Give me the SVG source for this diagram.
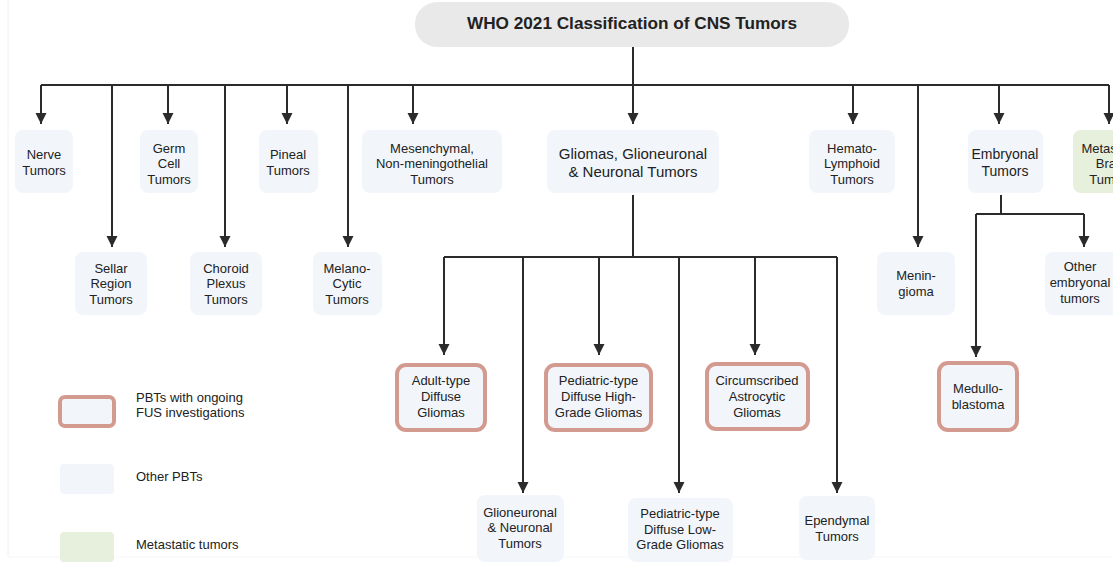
<svg xmlns="http://www.w3.org/2000/svg" width="1113" height="563" viewBox="0 0 1113 563">
<style>
.bg{fill:#ffffff}
.node{fill:#f2f6fb;stroke:none}
.hl{fill:#f2f6fb;stroke:#d39a90;stroke-width:4}
.meta{fill:#e7efdd;stroke:none}
.title{fill:#e9e9e9}
text{font-family:"Liberation Sans",Arial,sans-serif;font-size:13px;fill:#222;text-anchor:middle}
.t{font-weight:bold;font-size:17.2px}
.big{font-size:15px}
.mid{font-size:14px}
.leg{text-anchor:start}
.c{fill:none;stroke:#2b2b2b;stroke-width:2}
</style>
<defs>
<marker id="ah" markerUnits="userSpaceOnUse" markerWidth="12" markerHeight="12" viewBox="0 0 12 12" refX="11" refY="6" orient="auto">
<path d="M0,0.5 L11,6 L0,11.5 z" fill="#2b2b2b"/>
</marker>
</defs>
<rect class="bg" x="0" y="0" width="1113" height="563"/>
<line x1="8" y1="0" x2="8" y2="557" stroke="#f0f0f0" stroke-width="1"/>
<line x1="8" y1="557" x2="1113" y2="557" stroke="#f6f6f6" stroke-width="1"/>

<g id="connectors">
<path class="c" d="M41,85 H1109"/>
<path class="c" d="M633,47 V85"/>
<path class="c" d="M41,85 V124" marker-end="url(#ah)"/>
<path class="c" d="M112,85 V247" marker-end="url(#ah)"/>
<path class="c" d="M168,85 V124" marker-end="url(#ah)"/>
<path class="c" d="M225,85 V247" marker-end="url(#ah)"/>
<path class="c" d="M287,85 V124" marker-end="url(#ah)"/>
<path class="c" d="M348,85 V247" marker-end="url(#ah)"/>
<path class="c" d="M413,85 V124" marker-end="url(#ah)"/>
<path class="c" d="M633,85 V124" marker-end="url(#ah)"/>
<path class="c" d="M853,85 V124" marker-end="url(#ah)"/>
<path class="c" d="M918,85 V247" marker-end="url(#ah)"/>
<path class="c" d="M999,85 V124" marker-end="url(#ah)"/>
<path class="c" d="M1109,85 V124" marker-end="url(#ah)"/>
<path class="c" d="M633,195 V257"/>
<path class="c" d="M444,257 H837"/>
<path class="c" d="M444,257 V355" marker-end="url(#ah)"/>
<path class="c" d="M523,257 V493" marker-end="url(#ah)"/>
<path class="c" d="M599,257 V355" marker-end="url(#ah)"/>
<path class="c" d="M679,257 V493" marker-end="url(#ah)"/>
<path class="c" d="M755,257 V355" marker-end="url(#ah)"/>
<path class="c" d="M837,257 V493" marker-end="url(#ah)"/>
<path class="c" d="M1001,195 V214"/>
<path class="c" d="M976,214 H1084"/>
<path class="c" d="M976,214 V357" marker-end="url(#ah)"/>
<path class="c" d="M1084,214 V247" marker-end="url(#ah)"/>
</g>

<g id="title">
<rect class="title" x="415" y="2" width="434" height="45" rx="22"/>
<text class="t" x="632" y="29">WHO 2021 Classification of CNS Tumors</text>
</g>

<g id="nerve">
<rect class="node" x="15" y="130" width="58" height="63" rx="8"/>
<text x="44" y="159">Nerve</text><text x="44" y="175">Tumors</text>
</g>
<g id="germ">
<rect class="node" x="140" y="130" width="58" height="63" rx="8"/>
<text x="169" y="153">Germ</text><text x="169" y="168">Cell</text><text x="169" y="184">Tumors</text>
</g>
<g id="pineal">
<rect class="node" x="259" y="130" width="59" height="63" rx="8"/>
<text x="288" y="159">Pineal</text><text x="288" y="175">Tumors</text>
</g>
<g id="mesenchymal">
<rect class="node" x="362" y="130" width="140" height="63" rx="8"/>
<text x="432" y="153">Mesenchymal,</text><text x="432" y="168">Non-meningothelial</text><text x="432" y="184">Tumors</text>
</g>
<g id="gliomas">
<rect class="node" x="547" y="130" width="172" height="63" rx="8"/>
<text class="big" x="633" y="159">Gliomas, Glioneuronal</text><text class="big" x="633" y="177">&amp; Neuronal Tumors</text>
</g>
<g id="hemato">
<rect class="node" x="809" y="130" width="86" height="63" rx="8"/>
<text x="852" y="153">Hemato-</text><text x="852" y="168">Lymphoid</text><text x="852" y="184">Tumors</text>
</g>
<g id="embryonal">
<rect class="node" x="968" y="130" width="75" height="63" rx="8"/>
<text class="mid" x="1005" y="159">Embryonal</text><text class="mid" x="1005" y="176">Tumors</text>
</g>
<g id="metastatic">
<rect class="meta" x="1073" y="130" width="76" height="63" rx="8"/>
<text x="1111" y="153">Metastatic</text><text x="1111" y="168">Brain</text><text x="1111" y="184">Tumors</text>
</g>

<g id="sellar">
<rect class="node" x="75" y="252" width="72" height="63" rx="8"/>
<text x="111" y="273">Sellar</text><text x="111" y="288">Region</text><text x="111" y="304">Tumors</text>
</g>
<g id="choroid">
<rect class="node" x="190" y="252" width="72" height="63" rx="8"/>
<text x="226" y="273">Choroid</text><text x="226" y="288">Plexus</text><text x="226" y="304">Tumors</text>
</g>
<g id="melanocytic">
<rect class="node" x="313" y="252" width="69" height="63" rx="8"/>
<text x="347" y="273">Melano-</text><text x="347" y="288">Cytic</text><text x="347" y="304">Tumors</text>
</g>
<g id="meningioma">
<rect class="node" x="877" y="252" width="78" height="63" rx="8"/>
<text x="916" y="280">Menin-</text><text x="916" y="296">gioma</text>
</g>
<g id="other-embryonal">
<rect class="node" x="1045" y="252" width="75" height="63" rx="8"/>
<text x="1080" y="271">Other</text><text x="1080" y="287">embryonal</text><text x="1080" y="303">tumors</text>
</g>

<g id="adult">
<rect class="hl" x="397" y="365" width="88" height="65" rx="9"/>
<text x="441" y="385">Adult-type</text><text x="441" y="401">Diffuse</text><text x="441" y="417">Gliomas</text>
</g>
<g id="ped-hg">
<rect class="hl" x="546" y="365" width="105" height="65" rx="9"/>
<text x="598.5" y="385">Pediatric-type</text><text x="598.5" y="401">Diffuse High-</text><text x="598.5" y="417">Grade Gliomas</text>
</g>
<g id="circumscribed">
<rect class="hl" x="707" y="364" width="101" height="65" rx="9"/>
<text x="757" y="385">Circumscribed</text><text x="757" y="401">Astrocytic</text><text x="757" y="417">Gliomas</text>
</g>
<g id="medulloblastoma">
<rect class="hl" x="939" y="363" width="78" height="67" rx="9"/>
<text x="978" y="393">Medullo-</text><text x="978" y="409">blastoma</text>
</g>

<g id="glioneuronal">
<rect class="node" x="477" y="495" width="87" height="67" rx="8"/>
<text x="520" y="517">Glioneuronal</text><text x="520" y="532">&amp; Neuronal</text><text x="520" y="548">Tumors</text>
</g>
<g id="ped-lg">
<rect class="node" x="628" y="498" width="105" height="64" rx="8"/>
<text x="680" y="518">Pediatric-type</text><text x="680" y="534">Diffuse Low-</text><text x="680" y="549">Grade Gliomas</text>
</g>
<g id="ependymal">
<rect class="node" x="799" y="496" width="76" height="64" rx="8"/>
<text x="837" y="525">Ependymal</text><text x="837" y="541">Tumors</text>
</g>

<g id="legend">
<rect class="hl" x="60" y="397" width="54" height="29" rx="5"/>
<text class="leg" x="136" y="402">PBTs with ongoing</text><text class="leg" x="136" y="417">FUS investigations</text>
<rect class="node" x="60" y="464" width="54" height="30" rx="4"/>
<text class="leg" x="136" y="481">Other PBTs</text>
<rect class="meta" x="60" y="532" width="54" height="30" rx="4"/>
<text class="leg" x="136" y="549">Metastatic tumors</text>
</g>
</svg>
